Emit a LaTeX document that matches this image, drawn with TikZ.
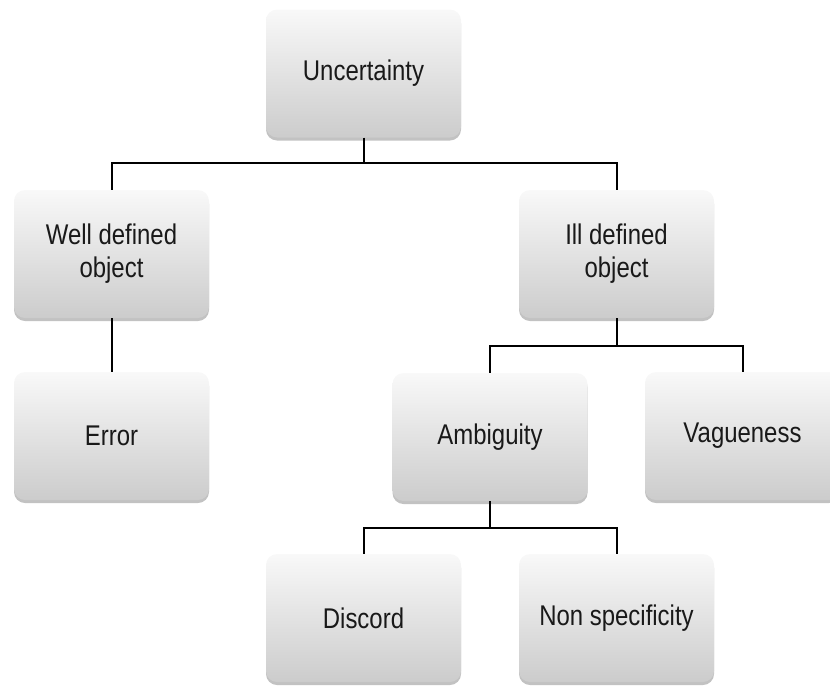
\documentclass[tikz,border=0pt]{standalone}
\usepackage{fontspec}
\setmainfont{Liberation Sans}[FakeStretch=0.84]
\usetikzlibrary{shadows}
\begin{document}
\begin{tikzpicture}[x=1pt,y=-1pt,
  box/.style={rectangle, rounded corners=11pt, minimum width=195pt, minimum height=128pt,
    top color=gray!5, bottom color=gray!40, draw=none, align=center,
    font=\fontsize{28.5}{33}\selectfont, text=black!90,
    drop shadow={shadow xshift=0pt, shadow yshift=-3pt, opacity=0.4, fill=black!60}},
  conn/.style={draw=black, line width=2pt}]
\useasboundingbox (0,0) rectangle (830,686);
\clip (0,0) rectangle (830,686);
\node[box] (unc) at (363.5,73.5) {Uncertainty};
\node[box] (well) at (111.5,254) {Well defined\\object};
\node[box] (ill) at (616.5,254) {Ill defined\\object};
\node[box] (err) at (111.5,436) {Error};
\node[box] (amb) at (490,437) {Ambiguity};
\node[box] (vag) at (742.5,436) {Vagueness};
\node[box] (disc) at (363.5,618) {Discord};
\node[box] (nons) at (616.5,618) {Non specificity};
\coordinate (j1) at (0,163);
\coordinate (j2) at (0,346);
\coordinate (j3) at (0,528);
\draw[conn] (unc.south) -- (unc.south |- j1);
\draw[conn] (unc.south |- j1) -| (well.north);
\draw[conn] (unc.south |- j1) -| (ill.north);
\draw[conn] (well.south) -- (err.north);
\draw[conn] (ill.south) -- (ill.south |- j2);
\draw[conn] (ill.south |- j2) -| (amb.north);
\draw[conn] (ill.south |- j2) -| (vag.north);
\draw[conn] (amb.south) -- (amb.south |- j3);
\draw[conn] (amb.south |- j3) -| (disc.north);
\draw[conn] (amb.south |- j3) -| (nons.north);
\end{tikzpicture}
\end{document}
